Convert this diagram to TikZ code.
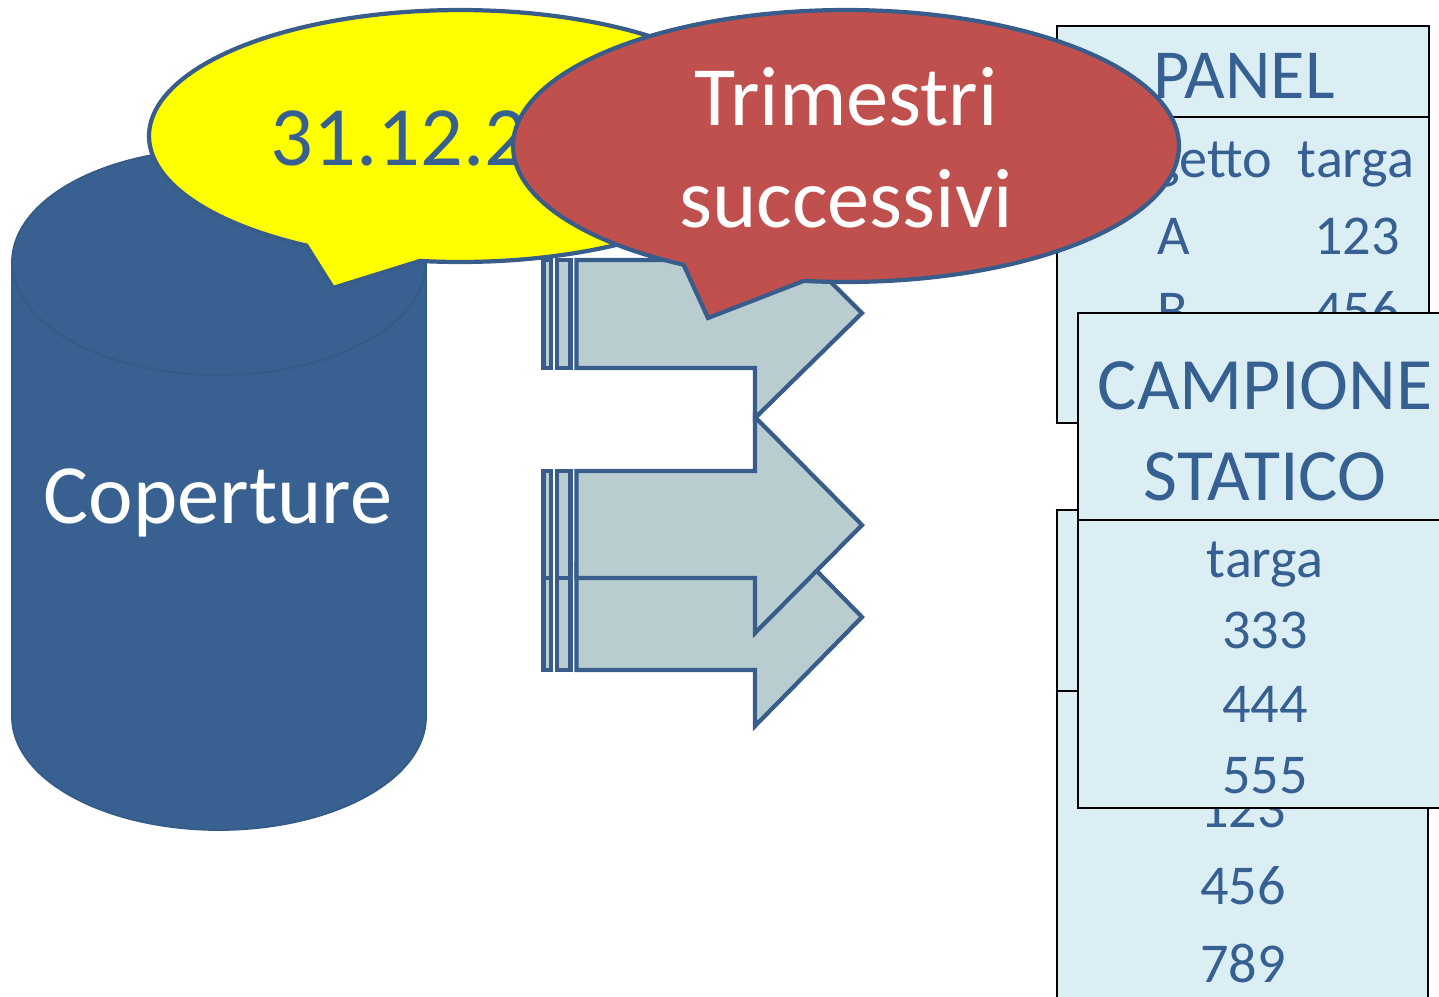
\documentclass[tikz,border=0pt]{standalone}
\usepackage{fontspec}
\setmainfont{Carlito}
\definecolor{cylblue}{RGB}{56,97,145}
\definecolor{cyledge}{RGB}{52,90,136}
\definecolor{edgeblue}{RGB}{56,93,138}
\definecolor{txtblue}{RGB}{55,96,146}
\definecolor{arrowfill}{RGB}{185,205,209}
\definecolor{tablefill}{RGB}{219,238,244}
\definecolor{callred}{RGB}{192,80,77}
\definecolor{callyellow}{RGB}{255,255,0}
\begin{document}
\begin{tikzpicture}[x=0.01cm,y=-0.01cm,
  outl/.style={draw=edgeblue,line width=1.2pt,line join=miter},
  arrowbody/.style={outl,fill=arrowfill},
  tbl/.style={draw=black,line width=0.75pt,fill=tablefill},
  bigtxt/.style={font=\fontsize{24}{28}\selectfont},
  titletxt/.style={font=\fontsize{20}{24}\selectfont,text=txtblue},
  celltxt/.style={font=\fontsize{16}{19}\selectfont,text=txtblue},
  every node/.style={inner sep=0pt}]
\useasboundingbox (0,0) rectangle (1439,996);
\clip (0,0) rectangle (1439,996);

% cylinder
\filldraw[fill=cylblue,draw=cyledge,line width=0.5pt]
  (12,262) -- (12,717)
  -- plot[domain=180:0,samples=90,variable=\t] ({219+207*cos(\t)},{717+113*sin(\t)})
  -- (426,262)
  -- plot[domain=0:-180,samples=90,variable=\t] ({219+207*cos(\t)},{262+113*sin(\t)})
  -- cycle;
\draw[cyledge,line width=0.6pt]
  plot[domain=0:180,samples=90,variable=\t] ({219+207*cos(\t)},{262+113*sin(\t)});
\node[bigtxt,text=white,anchor=base] (cop) at (218,523) {Coperture};

% arrow 3
\draw[arrowbody] (543.5,564) rectangle (551,670);
\draw[arrowbody] (557,564) rectangle (570.5,670);
\draw[arrowbody] (576.5,564) -- (755,564) -- (755,508) -- (862,617) -- (755,726) -- (755,670) -- (576.5,670) -- cycle;
% arrow 2
\draw[arrowbody] (543.5,471) rectangle (551,578);
\draw[arrowbody] (557,471) rectangle (570.5,578);
\draw[arrowbody] (576.5,471) -- (755,471) -- (755,417) -- (862,525) -- (755,633) -- (755,578) -- (576.5,578) -- cycle;
% arrow 1
\draw[arrowbody] (543.5,260) rectangle (551,368);
\draw[arrowbody] (557,260) rectangle (570.5,368);
\draw[arrowbody] (576.5,260) -- (755,260) -- (755,207) -- (862,313) -- (755,418) -- (755,368) -- (576.5,368) -- cycle;

% yellow callout
\filldraw[outl,fill=callyellow]
  (333,288) -- plot[domain=97.4:-240.4,samples=160,variable=\t] ({460+311*cos(\t)},{136+126*sin(\t)}) -- cycle;
\node[bigtxt,text=txtblue,anchor=base west] (date) at (270,165) {31.12.2};

% PANEL table
\draw[tbl] (1057,26) rectangle (1429,117);
\draw[tbl] (1057,117) rectangle (1429,423);
\node[titletxt,anchor=base] (panel) at (1244,98) {PANEL};
\node[celltxt,anchor=base east] (sogg) at (1273,177) {soggetto};
\node[celltxt,anchor=base] (targaA) at (1356,177) {targa};
\node[celltxt,anchor=base west] (rowA) at (1157,254) {A};
\node[celltxt,anchor=base] (valA) at (1357,254) {123};
\node[celltxt,anchor=base west] (rowB) at (1157,329) {B};
\node[celltxt,anchor=base] (valB) at (1357,329) {456};

% red callout
\filldraw[outl,fill=callred]
  (708,318) -- plot[domain=97.3:-240.8,samples=160,variable=\t] ({846+333*cos(\t)},{146+136*sin(\t)}) -- cycle;
\node[bigtxt,text=white,anchor=base] (trim) at (846,125) {Trimestri};
\node[bigtxt,text=white,anchor=base] (succ) at (846,227) {successivi};

% second table
\draw[tbl] (1057,510) rectangle (1428,691);
\draw[tbl] (1057,691) rectangle (1428,1010);
\node[celltxt,anchor=base] (s1) at (1243,827) {123};
\node[celltxt,anchor=base] (s2) at (1243,904) {456};
\node[celltxt,anchor=base] (s3) at (1243,982) {789};

% CAMPIONE STATICO
\draw[tbl] (1078,313) rectangle (1452,520);
\draw[tbl] (1078,520) rectangle (1452,808);
\node[titletxt,font=\fontsize{21}{25}\selectfont,anchor=base] (camp) at (1265,409) {CAMPIONE};
\node[titletxt,font=\fontsize{21}{25}\selectfont,anchor=base] (stat) at (1265,500) {STATICO};
\node[celltxt,anchor=base] (targaC) at (1265,577) {targa};
\node[celltxt,anchor=base] (c1) at (1265,648) {333};
\node[celltxt,anchor=base] (c2) at (1265,722) {444};
\node[celltxt,anchor=base] (c3) at (1265,793) {555};
\end{tikzpicture}
\end{document}
